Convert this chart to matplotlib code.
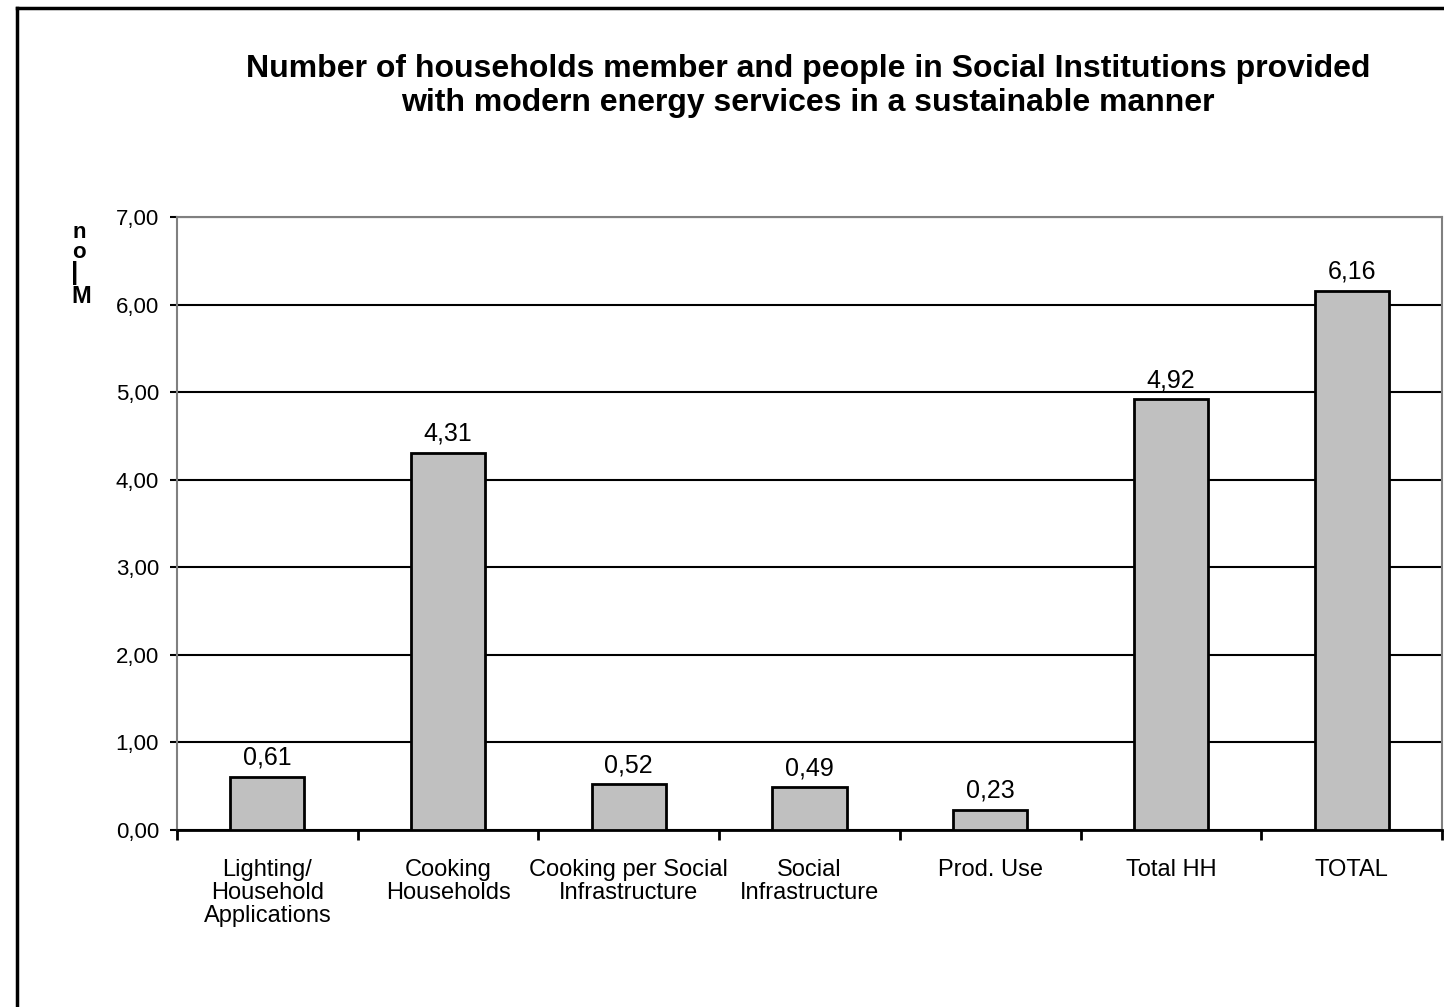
import matplotlib.pyplot as plt
from matplotlib.lines import Line2D

categorias = ['Lighting/\nHousehold\nApplications', 'Cooking\nHouseholds',
              'Cooking per Social\nInfrastructure', 'Social\nInfrastructure',
              'Prod. Use', 'Total HH', 'TOTAL']
valores = [0.61, 4.31, 0.52, 0.49, 0.23, 4.92, 6.16]
ticks_y = [0, 1, 2, 3, 4, 5, 6, 7]

plt.rcParams['font.family'] = ['Liberation Sans', 'DejaVu Sans']

fig = plt.figure(figsize=(14.44, 10.07), dpi=100)
ax = fig.add_axes([177 / 1444, 1 - 830 / 1007, (1442 - 177) / 1444, (830 - 217) / 1007])

x = list(range(len(categorias)))
ax.bar(x, valores, width=0.41, color='#c0c0c0', edgecolor='black', linewidth=2, zorder=3)
for xi, v in zip(x, valores):
    ax.text(xi, v + 0.08, f'{v:.2f}'.replace('.', ','), ha='center', va='bottom', fontsize=18)

ax.set_xlim(-0.5, len(categorias) - 0.5)
ax.set_ylim(0, 7)
ax.set_yticks(ticks_y)
ax.set_yticklabels([f'{t:.2f}'.replace('.', ',') for t in ticks_y], fontsize=16)
ax.yaxis.grid(True, color='black', linewidth=1.5, zorder=0)
ax.set_axisbelow(True)

ax.set_xticks([i + 0.5 for i in range(-1, len(categorias))], minor=False)
ax.set_xticklabels([])
ax.set_xticks(x, minor=True)
ax.set_xticklabels(categorias, minor=True, fontsize=17, linespacing=1.05)
ax.tick_params(axis='x', which='minor', length=0, pad=21)
ax.tick_params(axis='x', which='major', length=7, width=2, direction='out')
ax.tick_params(axis='y', length=5, width=1.5, direction='out', pad=8)

for lado in ['top', 'right', 'left']:
    ax.spines[lado].set_color('#808080')
    ax.spines[lado].set_linewidth(1.5)
ax.spines['bottom'].set_color('black')
ax.spines['bottom'].set_linewidth(2)

fig.text(808 / 1444, 1 - 86 / 1007,
         'Number of households member and people in Social Institutions provided\n'
         'with modern energy services in a sustainable manner',
         ha='center', va='center', fontsize=23, fontweight='bold', linespacing=1.15)

# etiqueta del eje y con letras apiladas
fig.text(79 / 1444, 1 - 233 / 1007, 'n', ha='center', va='center', fontsize=16, fontweight='bold')
fig.text(79 / 1444, 1 - 252 / 1007, 'o', ha='center', va='center', fontsize=16, fontweight='bold')
fig.text(75 / 1444, 1 - 273 / 1007, '|', ha='center', va='center', fontsize=19, fontweight='bold')
fig.text(81 / 1444, 1 - 296 / 1007, 'M', ha='center', va='center', fontsize=17, fontweight='bold')

# marco de la figura (arriba e izquierda)
fig.add_artist(Line2D([17 / 1444, 17 / 1444], [0, 1 - 8 / 1007], color='black', linewidth=2.5,
                      transform=fig.transFigure))
fig.add_artist(Line2D([17 / 1444, 1], [1 - 8 / 1007, 1 - 8 / 1007], color='black', linewidth=2.5,
                      transform=fig.transFigure))

fig.savefig('out.png', dpi=100)
